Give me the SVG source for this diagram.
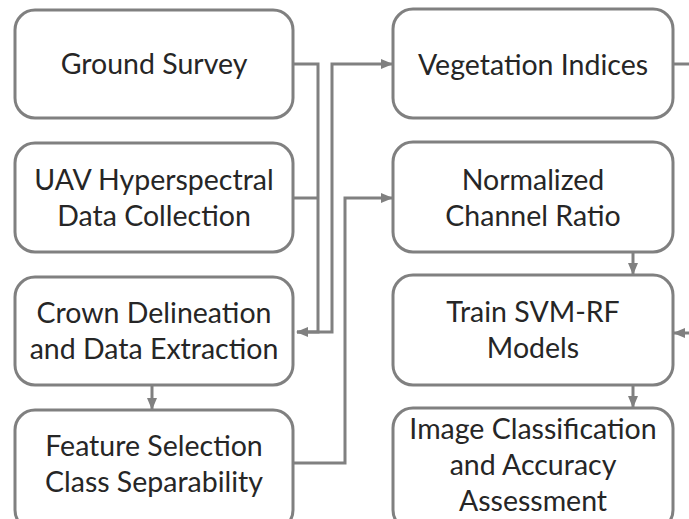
<svg xmlns="http://www.w3.org/2000/svg" width="689" height="519" viewBox="0 0 689 519">
<style>
.box{fill:#fff;stroke:#808080;stroke-width:3}
.t{font-family:Lato,"Liberation Sans",sans-serif;font-size:28.5px;fill:#262626;text-anchor:middle}
.c{fill:none;stroke:#808080;stroke-width:3}
</style>
<defs>
<marker id="ah" viewBox="0 0 12 10" refX="11" refY="5" markerWidth="12" markerHeight="10" markerUnits="userSpaceOnUse" orient="auto">
<path d="M0,0 L12,5 L0,10 Z" fill="#808080"/>
</marker>
</defs>
<rect width="689" height="519" fill="#fff"/>
<g id="connectors">
<path class="c" d="M293,64 H318 V332 H297" marker-end="url(#ah)"/>
<path class="c" d="M293,198 H318"/>
<path class="c" d="M297,332 H332 V64 H392" marker-end="url(#ah)"/>
<path class="c" d="M293,463 H345 V198 H392" marker-end="url(#ah)"/>
<path class="c" d="M673,64 H689"/>
<path class="c" d="M689,333 H674" marker-end="url(#ah)"/>
<path class="c" d="M633,252 V274" marker-end="url(#ah)"/>
<path class="c" d="M633,385 V407" marker-end="url(#ah)"/>
<path class="c" d="M152,385 V409" marker-end="url(#ah)"/>
</g>
<g id="ground-survey">
<rect class="box" x="15" y="10" width="278" height="108" rx="20"/>
<text class="t" x="154" y="74">Ground Survey</text>
</g>
<g id="uav">
<rect class="box" x="15" y="143" width="278" height="109" rx="20"/>
<text class="t" x="154" y="190">UAV Hyperspectral</text>
<text class="t" x="154" y="226">Data Collection</text>
</g>
<g id="crown">
<rect class="box" x="15" y="277" width="278" height="108" rx="20"/>
<text class="t" x="154" y="323">Crown Delineation</text>
<text class="t" x="154" y="359">and Data Extraction</text>
</g>
<g id="feature">
<rect class="box" x="15" y="410" width="278" height="120" rx="20"/>
<text class="t" x="154" y="456">Feature Selection</text>
<text class="t" x="154" y="492">Class Separability</text>
</g>
<g id="vegetation">
<rect class="box" x="393" y="9" width="280" height="109" rx="20"/>
<text class="t" x="533" y="75">Vegetation Indices</text>
</g>
<g id="ncr">
<rect class="box" x="393" y="142" width="280" height="110" rx="20"/>
<text class="t" x="533" y="190">Normalized</text>
<text class="t" x="533" y="226">Channel Ratio</text>
</g>
<g id="train">
<rect class="box" x="393" y="275" width="280" height="110" rx="20"/>
<text class="t" x="533" y="322">Train SVM-RF</text>
<text class="t" x="533" y="358">Models</text>
</g>
<g id="classification">
<rect class="box" x="393" y="408" width="280" height="122" rx="20"/>
<text class="t" x="533" y="439">Image Classification</text>
<text class="t" x="533" y="475">and Accuracy</text>
<text class="t" x="533" y="511">Assessment</text>
</g>
</svg>
